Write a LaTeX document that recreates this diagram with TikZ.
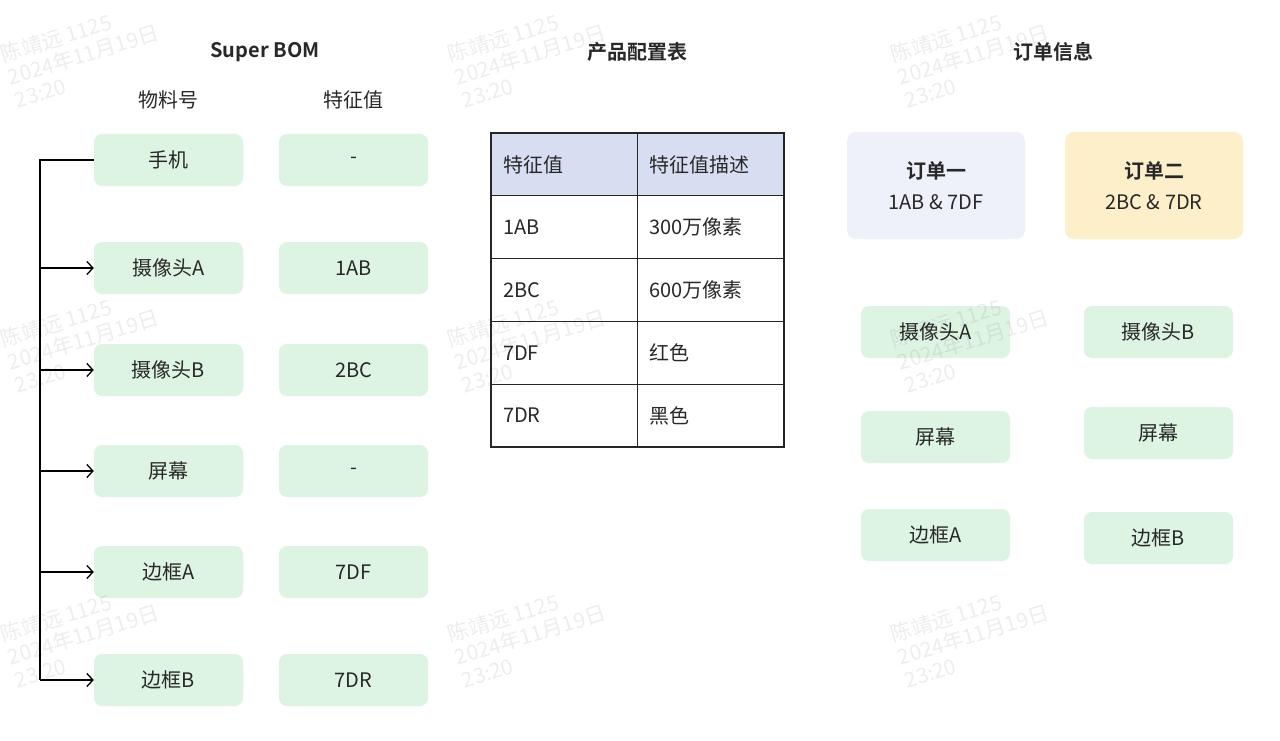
\documentclass[tikz,border=0pt]{standalone}
\usepackage{fontspec}
\setmainfont{Noto Sans CJK SC}[BoldFont={Noto Sans CJK SC Bold}]
\usetikzlibrary{arrows.meta}
\definecolor{boxgreen}{RGB}{222,244,226}
\definecolor{textc}{RGB}{40,40,40}
\definecolor{headblue}{RGB}{216,222,242}
\definecolor{ordera}{RGB}{238,241,250}
\definecolor{orderb}{RGB}{253,239,201}
\newcommand{\fsbody}{\fontsize{20}{24}\selectfont}
\newcommand{\wmtext}{陈靖远 1125\\2024年11月19日\\23:20}
\begin{document}
\begin{tikzpicture}[x=1pt,y=-1pt,
  gbox/.style={rectangle, rounded corners=8pt, fill=boxgreen, minimum width=149pt, minimum height=52pt, inner sep=0pt, text=textc, font=\fsbody},
  title/.style={font=\fontsize{20}{24}\selectfont\bfseries, text=textc},
  colhead/.style={font=\fsbody, text=textc},
  cell/.style={draw=black!85, line width=1.2pt, rectangle, minimum height=62.8pt, text width=122.5pt, inner xsep=12pt, inner ysep=0pt, minimum width=146.5pt, align=left, font=\fsbody, text=textc},
  obox/.style={rectangle, rounded corners=9pt, minimum width=178pt, minimum height=107pt, inner sep=0pt, align=center, text=textc, font=\fontsize{20}{31}\selectfont},
  wm/.style={rotate=17, anchor=west, align=left, text=black, text opacity=0.07, font=\fontsize{21}{24}\selectfont},
  conn/.style={line width=1.3pt, black},
  arr/.style={conn, -{Straight Barb[length=6pt,width=13pt,line width=1.3pt]}}
]
\useasboundingbox (0,0) rectangle (1280,741);
\fill[white] (0,0) rectangle (1280,741);

% Super BOM section
\node[title] (tbom) at (265,52) {Super BOM};
\node[colhead] (hmat) at (168.5,100) {物料号};
\node[colhead] (hfeat) at (353.5,100) {特征值};

\node[gbox] (m1) at (168.5,160) {手机};
\node[gbox] (m2) at (168.5,268) {摄像头A};
\node[gbox] (m3) at (168.5,370) {摄像头B};
\node[gbox] (m4) at (168.5,471) {屏幕};
\node[gbox] (m5) at (168.5,572) {边框A};
\node[gbox] (m6) at (168.5,680) {边框B};

\node[gbox] (f1) at (353.5,160) {-};
\node[gbox] (f2) at (353.5,268) {1AB};
\node[gbox] (f3) at (353.5,370) {2BC};
\node[gbox] (f4) at (353.5,471) {-};
\node[gbox] (f5) at (353.5,572) {7DF};
\node[gbox] (f6) at (353.5,680) {7DR};

\coordinate (ctop) at (40,160);
\coordinate (cbot) at (40,680);
\draw[conn] (m1.west) -- (ctop) -- (cbot);
\foreach \i in {2,...,6}{
  \draw[arr] (m\i.west -| ctop) -- (m\i.west);
}

% product configuration table
\node[title] (tprod) at (637.5,52) {产品配置表};
\node[cell, fill=headblue] (c11) at (564.25,164.4) {特征值};
\node[cell, fill=headblue] (c12) at (710.75,164.4) {特征值描述};
\node[cell] (c21) at (564.25,227.2) {1AB};
\node[cell] (c22) at (710.75,227.2) {300万像素};
\node[cell] (c31) at (564.25,290.0) {2BC};
\node[cell] (c32) at (710.75,290.0) {600万像素};
\node[cell] (c41) at (564.25,352.8) {7DF};
\node[cell] (c42) at (710.75,352.8) {红色};
\node[cell] (c51) at (564.25,415.6) {7DR};
\node[cell] (c52) at (710.75,415.6) {黑色};

% order info
\node[title] (tord) at (1053,52) {订单信息};
\node[obox, fill=ordera] (o1) at (936,185.5) {\textbf{订单一}\\1AB \& 7DF};
\node[obox, fill=orderb] (o2) at (1154,185.5) {\textbf{订单二}\\2BC \& 7DR};

\node[gbox] (a1) at (935.5,332) {摄像头A};
\node[gbox] (a2) at (935.5,437) {屏幕};
\node[gbox] (a3) at (935.5,535) {边框A};
\node[gbox] (b1) at (1158.5,332) {摄像头B};
\node[gbox] (b2) at (1158.5,433) {屏幕};
\node[gbox] (b3) at (1158.5,538) {边框B};

% watermarks (on top, faint)
\foreach \dx in {0,447,890}{
  \foreach \dy in {0,285,580}{
    \node[wm] at (5+\dx,78+\dy) {\wmtext};
  }
}
\end{tikzpicture}
\end{document}
